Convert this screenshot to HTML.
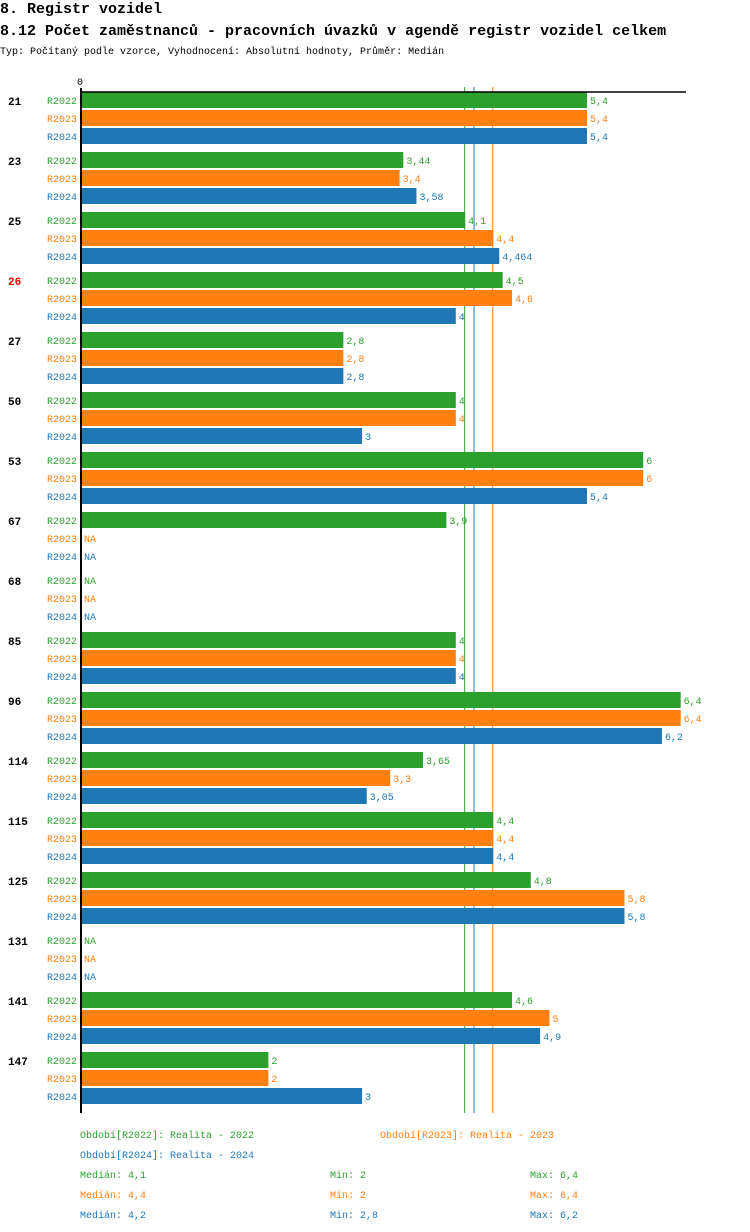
<!DOCTYPE html>
<html><head><meta charset="utf-8"><style>
body{margin:0;background:#fff;width:750px;height:1232px;overflow:hidden}
svg{display:block;font-family:"Liberation Mono",monospace}
</style></head><body>
<svg id="c" width="750" height="1232">
<text x="0" y="13" font-size="15" font-weight="bold">8. Registr vozidel</text>
<text x="0" y="35" font-size="15" font-weight="bold">8.12 Počet zaměstnanců - pracovních úvazků v agendě registr vozidel celkem</text>
<text x="0" y="54" font-size="10">Typ: Počítaný podle vzorce, Vyhodnocení: Absolutní hodnoty, Průměr: Medián</text>
</svg>
<script>
const categories=["21","23","25","26","27","50","53","67","68","85","96","114","115","125","131","141","147"];
const highlighted=["26"];
const seriesNames=["R2022","R2023","R2024"];
const r2022=[5.4,3.44,4.1,4.5,2.8,4,6,3.9,null,4,6.4,3.65,4.4,4.8,null,4.6,2];
const r2023=[5.4,3.4,4.4,4.6,2.8,4,6,null,null,4,6.4,3.3,4.4,5.8,null,5,2];
const r2024=[5.4,3.58,4.464,4,2.8,3,5.4,null,null,4,6.2,3.05,4.4,5.8,null,4.9,3];
const medians=[4.1,4.4,4.2];
const mins=[2,2,2.8];
const maxs=[6.4,6.4,6.2];
const periodLabels=["Období[R2022]: Realita - 2022","Období[R2023]: Realita - 2023","Období[R2024]: Realita - 2024"];
const colors=["#2ca02c","#ff7f0e","#1f77b4"];
const series=[r2022,r2023,r2024];
const svg=document.getElementById('c');const NS="http://www.w3.org/2000/svg";
function el(t,a,txt){const e=document.createElementNS(NS,t);for(const k in a)e.setAttribute(k,a[k]);if(txt!=null)e.textContent=txt;svg.appendChild(e);return e;}
const x=v=>81+v*93.7;
const gy=i=>92+i*60;
const fmt=v=>String(v).replace('.',',');
medians.forEach((m,j)=>{const ln=el('line',{x1:x(m)-0.5,x2:x(m)-0.5,y1:87,y2:1113,stroke:colors[j],'stroke-width':1});
 
 });
categories.forEach((c,i)=>{
 const t=el('text',{x:8,y:gy(i)+13,'font-size':11,'font-weight':'bold',fill:highlighted.includes(c)?'#e00':'#000'},c);
 
 
 series.forEach((s,j)=>{
  const y=gy(i)+j*18;
  const l=el('text',{x:77,y:y+12,'font-size':10,'text-anchor':'end',fill:colors[j]},seriesNames[j]);
  
  
  const v=s[i];
  if(v==null){const n=el('text',{x:84,y:y+12,'font-size':10,fill:colors[j]},'NA');
   
   return;}
  const r=el('rect',{x:81,y:y,width:x(v)-81,height:16,fill:colors[j]});
  
  
  const vt=el('text',{x:x(v)+3,y:y+12,'font-size':10,fill:colors[j]},fmt(v));
  
  
 });
});
const ax=el('line',{x1:80,x2:686,y1:92,y2:92,stroke:'#000','stroke-width':1.5});


const ay=el('line',{x1:81,x2:81,y1:88,y2:1113,stroke:'#000','stroke-width':2});


const z=el('text',{x:80,y:85,'font-size':10,'text-anchor':'middle'},'0');


const lp=[[80,1138],[380,1138],[80,1158]];
periodLabels.forEach((p,j)=>{const t=el('text',{x:lp[j][0],y:lp[j][1],'font-size':10,fill:colors[j]},p);
 
 });
seriesNames.forEach((s,j)=>{const y=1178+j*20;
 const a=el('text',{x:80,y:y,'font-size':10,fill:colors[j]},'Medián: '+fmt(medians[j]));
 
 
 const b=el('text',{x:330,y:y,'font-size':10,fill:colors[j]},'Min: '+fmt(mins[j]));
 
 
 const d=el('text',{x:530,y:y,'font-size':10,fill:colors[j]},'Max: '+fmt(maxs[j]));
 
 });
</script>
</body></html>
